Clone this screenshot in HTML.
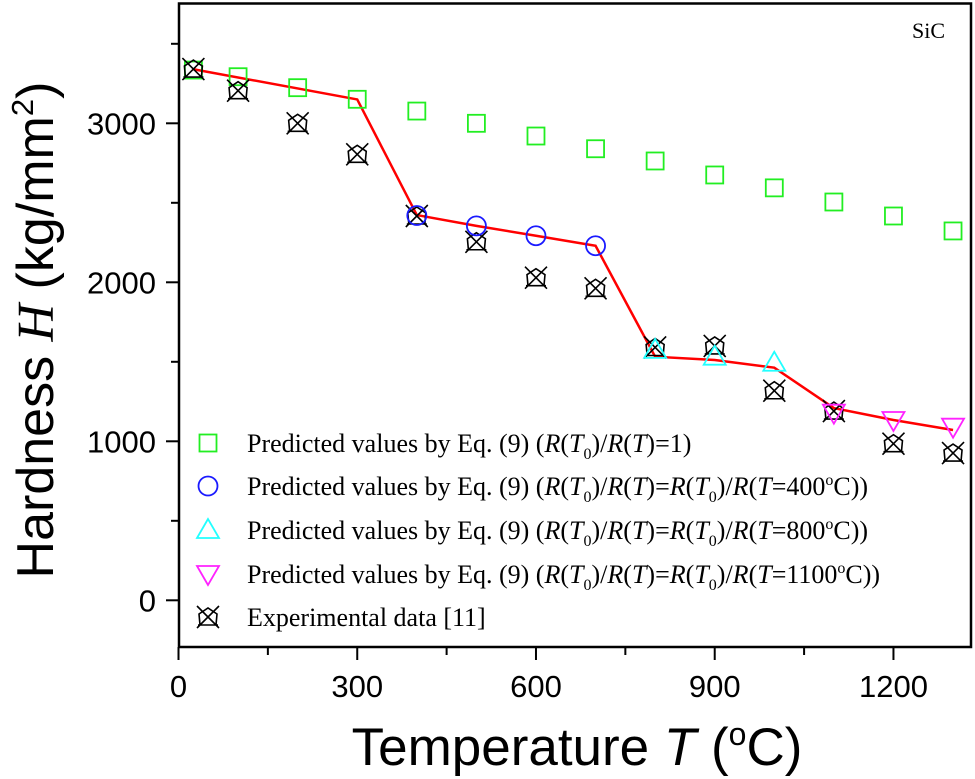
<!DOCTYPE html>
<html><head><meta charset="utf-8"><style>
body{margin:0;background:#fff;width:975px;height:779px;overflow:hidden;position:relative}
svg{display:block}
.tk{font-family:"Liberation Sans",sans-serif;font-size:31px;fill:#000}
.lg{font-family:"Liberation Serif",serif;font-size:26px;fill:#000}
.sb{font-size:16px}
</style></head><body>
<svg id="chart" width="975" height="779" xmlns="http://www.w3.org/2000/svg">
</svg>
<script>
const temps=[25,100,200,300,400,500,600,700,800,900,1000,1100,1200,1300];
const greenVals=[3335,3293,3224,3151,3077,3000,2920,2840,2763,2675,2594,2505,2417,2323];
const expVals=[3341,3205,3000,2805,2417,2255,2029,1962,1590,1600,1318,1190,985,926];
const lineVals=[3340,null,null,3150,2423,2355,2293,2230,1532,1511,1463,1209,1134,1071];
const circleT=[400,500,600,700];
const circleVals=[2420,2355,2293,2230];
const triUpT=[800,900,1000];
const triUpVals=[1575,1532,1494];
const triDnT=[1100,1200,1300];
const triDnVals=[1180,1134,1092];
const xTicks=[0,300,600,900,1200];
const yTicks=[0,1000,2000,3000];

const NS="http://www.w3.org/2000/svg";
const svg=document.getElementById('chart');
const X=v=>178.5+v*0.5958;
const Y=v=>600.3-v*0.159;
const BOT=647, LEFT=179, RIGHT=971, TOP=3.5;
function el(tag,attrs,parent){const e=document.createElementNS(NS,tag);for(const k in attrs)e.setAttribute(k,attrs[k]);(parent||svg).appendChild(e);return e;}

const frame=el('rect',{x:LEFT,y:TOP,width:RIGHT-LEFT,height:BOT-TOP,fill:'none',stroke:'#000','stroke-width':2.5});



for(let v=0;v<=1300;v+=150){
  const major=v%300===0;
  const t=el('line',{x1:X(v),x2:X(v),y1:BOT,y2:major?BOT+13:BOT+8,stroke:'#000','stroke-width':2});
  
  
}
xTicks.forEach(v=>{
  const t=el('text',{x:X(v),y:697,'text-anchor':'middle',class:'tk'});t.textContent=v;
  
  
});
for(let v=0;v<=3500;v+=500){
  const major=v%1000===0;
  const t=el('line',{x1:LEFT,x2:major?LEFT-13:LEFT-8,y1:Y(v),y2:Y(v),stroke:'#000','stroke-width':2});
  
  
}
yTicks.forEach(v=>{
  const t=el('text',{x:156,y:Y(v)+11,'text-anchor':'end',class:'tk'});t.textContent=v;
  
  
});

let pts=[];temps.forEach((t,i)=>{if(lineVals[i]!==null)pts.push(X(t)+','+Y(lineVals[i]));});
const ln=el('polyline',{points:pts.join(' '),fill:'none',stroke:'#ff0000','stroke-width':2.5});



function square(cx,cy,g){return el('rect',{x:cx-8.5,y:cy-8.5,width:17,height:17,fill:'none',stroke:'#22ee22','stroke-width':1.8},g);}
function circle(cx,cy,g){return el('circle',{cx:cx,cy:cy,r:9.5,fill:'none',stroke:'#1a1aff','stroke-width':1.8},g);}
function triUp(cx,cy,g){return el('polygon',{points:`${cx},${cy-11} ${cx-11},${cy+8} ${cx+11},${cy+8}`,fill:'none',stroke:'#22ffff','stroke-width':1.8},g);}
function triDn(cx,cy,g){return el('polygon',{points:`${cx},${cy+11} ${cx-11},${cy-8} ${cx+11},${cy-8}`,fill:'none',stroke:'#ff22ff','stroke-width':1.8},g);}
function expM(cx,cy,g){
  const gg=el('g',{},g);
  el('path',{d:`M${cx-11},${cy-11}L${cx+11},${cy+11}M${cx+11},${cy-11}L${cx-11},${cy+11}M${cx-10},${cy+8}L${cx+10},${cy+8}M${cx-8},${cy+8}L${cx-9},${cy-3}L${cx},${cy-9}L${cx+9},${cy-3}L${cx+8},${cy+8}`,fill:'none',stroke:'#000','stroke-width':1.6},gg);
  return gg;
}
temps.forEach((t,i)=>{const m=square(X(t),Y(greenVals[i]));
  
  });
temps.forEach((t,i)=>{const m=expM(X(t),Y(expVals[i]));
  
  });
circleT.forEach((t,i)=>{const m=circle(X(t),Y(circleVals[i]));
  
  });
triUpT.forEach((t,i)=>{const m=triUp(X(t),Y(triUpVals[i]));
  
  });
triDnT.forEach((t,i)=>{const m=triDn(X(t),Y(triDnVals[i]));
  
  });

const lgY=[443,486,530,574,617];
const fns=[square,circle,triUp,triDn,expM];
const names=['legend-square','legend-circle','legend-triangle-up','legend-triangle-down','legend-experimental'];
fns.forEach((f,i)=>{const m=f(208,lgY[i]);
  
  });
</script>
<svg width="975" height="779" style="position:absolute;left:0;top:0">
<g>
<text x="247" y="452" class="lg">Predicted values by Eq. (9) (<tspan font-style="italic">R</tspan>(<tspan font-style="italic">T</tspan><tspan class="sb" dy="7">0</tspan><tspan dy="-7">)/</tspan><tspan font-style="italic">R</tspan>(<tspan font-style="italic">T</tspan>)=1)</text>
<text x="247" y="495" class="lg">Predicted values by Eq. (9) (<tspan font-style="italic">R</tspan>(<tspan font-style="italic">T</tspan><tspan class="sb" dy="7">0</tspan><tspan dy="-7">)/</tspan><tspan font-style="italic">R</tspan>(<tspan font-style="italic">T</tspan>)=<tspan font-style="italic">R</tspan>(<tspan font-style="italic">T</tspan><tspan class="sb" dy="7">0</tspan><tspan dy="-7">)/</tspan><tspan font-style="italic">R</tspan>(<tspan font-style="italic">T</tspan>=400<tspan class="sb" dy="-10">o</tspan><tspan dy="10">C))</tspan></text>
<text x="247" y="539" class="lg">Predicted values by Eq. (9) (<tspan font-style="italic">R</tspan>(<tspan font-style="italic">T</tspan><tspan class="sb" dy="7">0</tspan><tspan dy="-7">)/</tspan><tspan font-style="italic">R</tspan>(<tspan font-style="italic">T</tspan>)=<tspan font-style="italic">R</tspan>(<tspan font-style="italic">T</tspan><tspan class="sb" dy="7">0</tspan><tspan dy="-7">)/</tspan><tspan font-style="italic">R</tspan>(<tspan font-style="italic">T</tspan>=800<tspan class="sb" dy="-10">o</tspan><tspan dy="10">C))</tspan></text>
<text x="247" y="583" class="lg">Predicted values by Eq. (9) (<tspan font-style="italic">R</tspan>(<tspan font-style="italic">T</tspan><tspan class="sb" dy="7">0</tspan><tspan dy="-7">)/</tspan><tspan font-style="italic">R</tspan>(<tspan font-style="italic">T</tspan>)=<tspan font-style="italic">R</tspan>(<tspan font-style="italic">T</tspan><tspan class="sb" dy="7">0</tspan><tspan dy="-7">)/</tspan><tspan font-style="italic">R</tspan>(<tspan font-style="italic">T</tspan>=1100<tspan class="sb" dy="-10">o</tspan><tspan dy="10">C))</tspan></text>
<text x="247" y="626" class="lg">Experimental data [11]</text>
</g>
<text x="912" y="38" font-family="Liberation Serif, serif" font-size="22">SiC</text>
<text x="577" y="765" text-anchor="middle" font-family="Liberation Sans, sans-serif" font-size="53">Temperature <tspan font-style="italic">T</tspan> (<tspan font-size="32" dy="-20">o</tspan><tspan dy="20">C)</tspan></text>
<text transform="translate(53,330) rotate(-90)" text-anchor="middle" font-family="Liberation Sans, sans-serif" font-size="52">Hardness <tspan font-family="Liberation Serif, serif" font-style="italic">H</tspan> (kg/mm<tspan font-size="31" dy="-20">2</tspan><tspan dy="20">)</tspan></text>
</svg>
</body></html>
